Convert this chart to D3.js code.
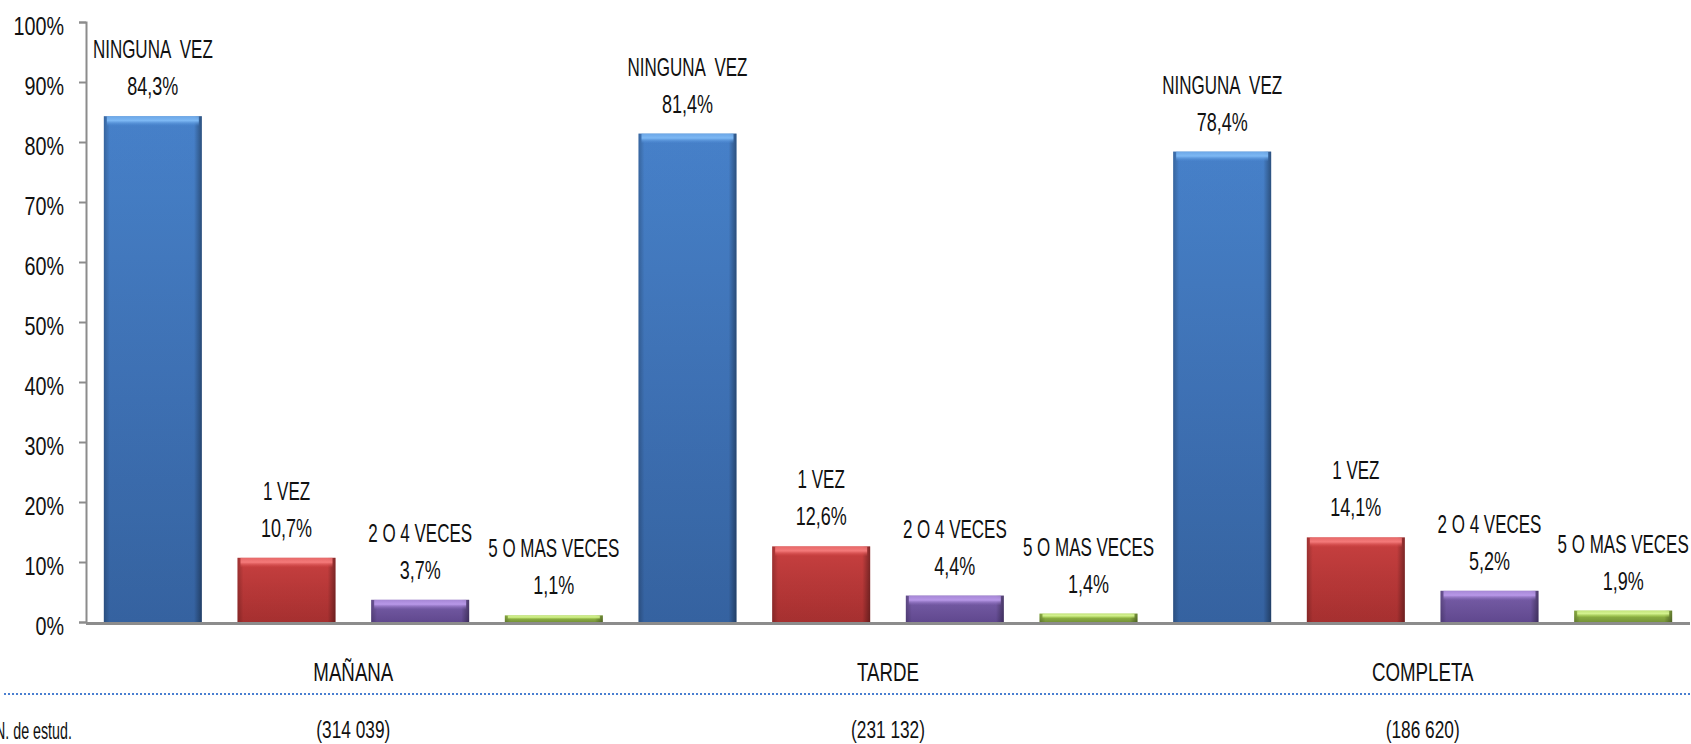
<!DOCTYPE html>
<html>
<head>
<meta charset="utf-8">
<script src="https://d3js.org/d3.v7.min.js"></script>
<style>
  body { margin: 0; background: #fff; }
  svg text { font-family: "Liberation Sans", Arial, sans-serif; fill: #111; }
</style>
</head>
<body>
<div id="chart"></div>
<script>
// turnos y numero de estudiantes
var categories = ["MAÑANA", "TARDE", "COMPLETA"];
var nCounts = ["(314 039)", "(231 132)", "(186 620)"];

// series (frecuencia)
var seriesNames = ["NINGUNA  VEZ", "1 VEZ", "2 O 4 VECES", "5 O MAS VECES"];
var ningunaVez = [84.3, 81.4, 78.4];
var unaVez = [10.7, 12.6, 14.1];
var dosCuatro = [3.7, 4.4, 5.2];
var cincoMas = [1.1, 1.4, 1.9];

var yTicks = [0, 10, 20, 30, 40, 50, 60, 70, 80, 90, 100];

// colours: top highlight, body, bottom
var palette = [
    { top: "#7db8f4", mid: "#4a87d3", bot: "#3867a8" },
    { top: "#f47a7a", mid: "#d24343", bot: "#ae3232" },
    { top: "#b898e8", mid: "#8064b2", bot: "#654c96" },
    { top: "#d4f290", mid: "#aad452", bot: "#7c9c3a" }
];

var seriesValues = [ningunaVez, unaVez, dosCuatro, cincoMas];

var width = 1691, height = 744;
var margin = { left: 86, right: 1, top: 22, bottom: 122 };
var narrow = 0.72; // squeeze text like a condensed font

var svg = d3.select("#chart")
    .append("svg")
    .attr("width", width)
    .attr("height", height);

// place a condensed text
function ntext(sel, x, y, k) {
    return sel.attr("transform", function (d, i) {
        return "translate(" + x(d, i) + "," + y(d, i) + ") scale(" + (k || narrow) + ",1)";
    });
}

var defs = svg.append("defs");

palette.forEach(function (c, i) {
    var g = defs.append("linearGradient")
        .attr("id", "body" + i)
        .attr("x1", 0).attr("y1", 0).attr("x2", 0).attr("y2", 1);
    g.append("stop").attr("offset", "0%").attr("stop-color", c.mid);
    g.append("stop").attr("offset", "100%").attr("stop-color", c.bot);

    var h = defs.append("linearGradient")
        .attr("id", "hi" + i)
        .attr("x1", 0).attr("y1", 0).attr("x2", 0).attr("y2", 1);
    h.append("stop").attr("offset", "0%").attr("stop-color", c.top).attr("stop-opacity", 0.7);
    h.append("stop").attr("offset", "45%").attr("stop-color", c.top).attr("stop-opacity", 1);
    h.append("stop").attr("offset", "100%").attr("stop-color", c.mid).attr("stop-opacity", 0);
});

// dark side edges of the bevel
var side = defs.append("linearGradient")
    .attr("id", "sides")
    .attr("x1", 0).attr("y1", 0).attr("x2", 1).attr("y2", 0);
side.append("stop").attr("offset", "0%").attr("stop-color", "#000").attr("stop-opacity", 0.25);
side.append("stop").attr("offset", "6%").attr("stop-color", "#000").attr("stop-opacity", 0.05);
side.append("stop").attr("offset", "92%").attr("stop-color", "#000").attr("stop-opacity", 0.05);
side.append("stop").attr("offset", "100%").attr("stop-color", "#000").attr("stop-opacity", 0.4);

var x0 = d3.scaleBand()
    .domain(categories)
    .range([margin.left, width - margin.right])
    .padding(0);

var x1 = d3.scaleBand()
    .domain(d3.range(seriesNames.length))
    .range([0, x0.bandwidth()])
    .paddingInner(0.267)
    .paddingOuter(0.1335);

var y = d3.scaleLinear()
    .domain([0, 100])
    .range([height - margin.bottom, margin.top]);

// Y axis
var yAxis = svg.append("g")
    .attr("transform", "translate(" + margin.left + ",0)")
    .call(d3.axisLeft(y).tickValues(yTicks).tickSize(7).tickPadding(15)
        .tickFormat(function (d) { return d + "%"; }));
yAxis.select(".domain").attr("stroke", "#8c8c8c").attr("stroke-width", 2);
yAxis.selectAll(".tick line").attr("stroke", "#8c8c8c").attr("stroke-width", 2);
yAxis.selectAll(".tick text").remove();
yAxis.selectAll(".tick").append("text")
    .attr("text-anchor", "end")
    .attr("font-size", 26)
    .attr("dy", "0.49em")
    .style("font-family", "'Liberation Sans', Arial, sans-serif")
    .attr("fill", "#111")
    .attr("transform", "translate(-22,0) scale(0.76,1)")
    .text(function (d) { return d + "%"; });

// bars
var rows = [];
categories.forEach(function (cat, ci) {
    seriesValues.forEach(function (vals, si) {
        rows.push({ cat: cat, s: si, v: vals[ci] });
    });
});

var bar = svg.append("g").selectAll("g")
    .data(rows)
    .enter()
    .append("g")
    .attr("transform", function (d) { return "translate(" + (x0(d.cat) + x1(d.s)) + ",0)"; });

bar.append("rect")
    .attr("x", 0)
    .attr("y", function (d) { return y(d.v); })
    .attr("width", x1.bandwidth())
    .attr("height", function (d) { return y(0) - y(d.v); })
    .attr("fill", function (d) { return "url(#body" + d.s + ")"; });

bar.append("rect")
    .attr("x", 0)
    .attr("y", function (d) { return y(d.v); })
    .attr("width", x1.bandwidth())
    .attr("height", function (d) { return y(0) - y(d.v); })
    .attr("fill", "url(#sides)");

bar.append("rect")
    .attr("x", 3)
    .attr("y", function (d) { return y(d.v); })
    .attr("width", x1.bandwidth() - 6)
    .attr("height", function (d) { return Math.min(10, (y(0) - y(d.v)) * 0.6); })
    .attr("fill", function (d) { return "url(#hi" + d.s + ")"; });

// labels over the bars
var fmt = d3.format(".1f");
ntext(bar.append("text"),
    function () { return x1.bandwidth() / 2; },
    function (d) { return y(d.v) - 21; })
    .attr("text-anchor", "middle")
    .attr("font-size", 25)
    .text(function (d) { return fmt(d.v).replace(".", ",") + "%"; });

ntext(bar.append("text"),
    function () { return x1.bandwidth() / 2; },
    function (d) { return y(d.v) - 58; }, 0.68)
    .attr("text-anchor", "middle")
    .attr("font-size", 25)
    .style("white-space", "pre")
    .text(function (d) { return seriesNames[d.s]; });

// X axis line
svg.append("line")
    .attr("x1", margin.left)
    .attr("x2", width - margin.right)
    .attr("y1", y(0) + 1.5)
    .attr("y2", y(0) + 1.5)
    .attr("stroke", "#8c8c8c")
    .attr("stroke-width", 3);

// category labels
ntext(svg.append("g").selectAll("text")
    .data(categories)
    .enter()
    .append("text"),
    function (d) { return x0(d) + x0.bandwidth() / 2; },
    function () { return 681; })
    .attr("text-anchor", "middle")
    .attr("font-size", 26)
    .text(function (d) { return d; });

// dotted separator
svg.append("line")
    .attr("x1", 4)
    .attr("x2", width)
    .attr("y1", 694)
    .attr("y2", 694)
    .attr("stroke", "#4a7fd0")
    .attr("stroke-width", 2)
    .attr("stroke-dasharray", "2,2");

// N de estudiantes
svg.append("text")
    .attr("transform", "translate(-5,739) scale(0.62,1)")
    .attr("font-size", 23)
    .text("N. de estud.");

ntext(svg.append("g").selectAll("text")
    .data(nCounts)
    .enter()
    .append("text"),
    function (d, i) { return x0(categories[i]) + x0.bandwidth() / 2; },
    function () { return 738; })
    .attr("text-anchor", "middle")
    .attr("font-size", 24)
    .text(function (d) { return d; });
</script>
</body>
</html>
